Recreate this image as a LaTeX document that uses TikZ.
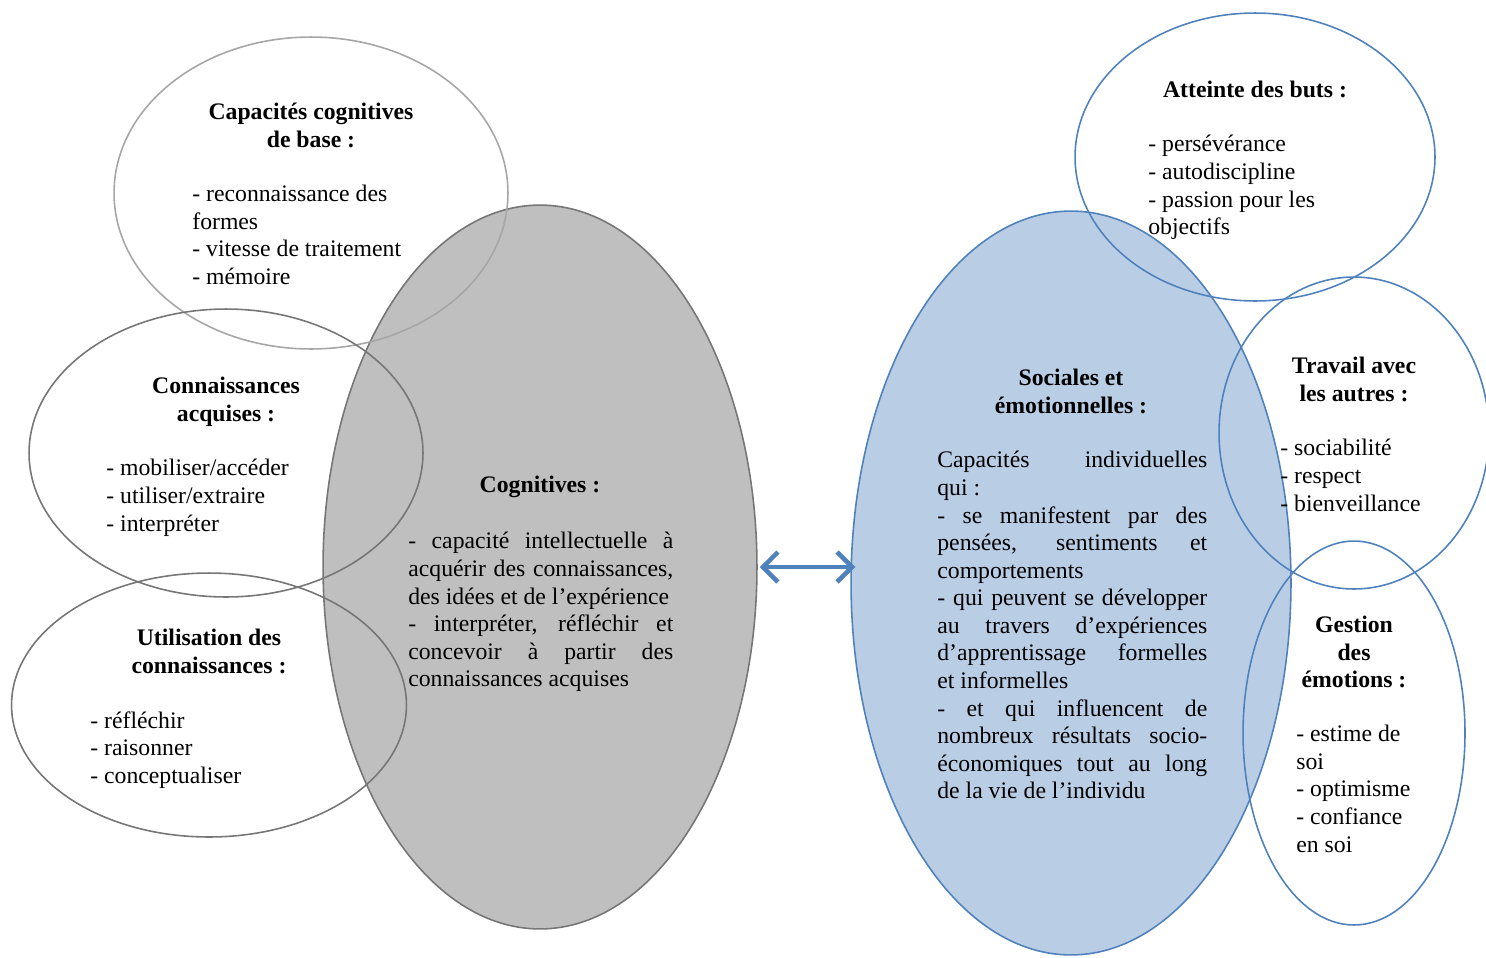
\documentclass[tikz,border=0pt]{standalone}
\usepackage{fontspec}
\setmainfont{Liberation Serif}
\usepackage{tikz}
\usetikzlibrary{arrows.meta, shapes.geometric, positioning}
\definecolor{cogfill}{RGB}{191,191,191}
\definecolor{cogline}{RGB}{118,118,118}
\definecolor{lightline}{RGB}{166,166,166}
\definecolor{socfill}{RGB}{185,205,229}
\definecolor{socline}{RGB}{79,129,189}
\tolerance=9999
\hyphenpenalty=10000

\begin{document}
\begin{tikzpicture}[x=0.02cm, y=-0.02cm, font=\fontsize{13.5}{15.7}\selectfont]
 \tikzstyle{bubble}=[ellipse, draw, inner sep=0pt, line width=0.9pt]
 \tikzstyle{title}=[align=center, anchor=north, inner sep=0pt, font=\fontsize{13.5}{15.7}\selectfont\bfseries]
 \tikzstyle{items}=[align=left, anchor=north west, inner sep=0pt]
 \tikzstyle{para}=[align=justify, anchor=north west, inner sep=0pt]
 \tikzstyle{link}=[<->, >={Straight Barb[length=3mm, width=6mm]}, line width=2.6pt, draw=socline, line cap=round]

 \useasboundingbox (0,0) rectangle (1486,957);

 % big bubbles
 \node[bubble, fill=cogfill, draw=cogline, minimum width=8.68cm, minimum height=14.48cm] (cog) at (540,567) {};
 \node[bubble, fill=socfill, draw=socline, minimum width=8.8cm, minimum height=14.88cm] (soc) at (1071,583) {};

 % left side
 \node[bubble, draw=lightline, minimum width=7.88cm, minimum height=6.24cm] (base) at (311,193) {};
 \node[bubble, draw=cogline, minimum width=7.88cm, minimum height=5.76cm] (acq) at (226,453) {};
 \node[bubble, draw=cogline, minimum width=7.9cm, minimum height=5.28cm] (util) at (209,705) {};

 % right side
 \node[bubble, draw=socline, minimum width=7.2cm, minimum height=5.76cm] (buts) at (1255,157) {};
 \node[bubble, draw=socline, minimum width=5.4cm, minimum height=6.24cm] (autres) at (1354,433) {};
 \node[bubble, draw=socline, minimum width=4.44cm, minimum height=7.68cm] (emo) at (1354,733) {};

 \draw[link] ([xshift=0.04cm]cog.east) -- ([xshift=0.1cm]cog.east -| soc.west);

 % texts
 \node[title] (base-t) at (311,103) {Capacités cognitives\\de base :};
 \node[items] (base-l) at (192,185) {- reconnaissance des\\formes\\- vitesse de traitement\\- mémoire};

 \node[title] (acq-t) at (226,377) {Connaissances\\acquises :};
 \node[items] (acq-l) at (106,459) {- mobiliser/accéder\\- utiliser/extraire\\- interpréter};

 \node[title] (util-t) at (209,629) {Utilisation des\\connaissances :};
 \node[items] (util-l) at (90,711) {- réfléchir\\- raisonner\\- conceptualiser};

 \node[title] (cog-t) at (540,476) {Cognitives :};
 \node[para, text width=5.3cm] (cog-p) at (408,532) {\noindent- capacité intellectuelle à\linebreak acquérir des connaissances,\linebreak des idées et de l’expérience\\- interpréter, réfléchir et\linebreak concevoir à partir des\linebreak connaissances acquises};

 \node[title] (soc-t) at (1071,369) {Sociales et\\émotionnelles :};
 \node[para, text width=5.4cm] (soc-p) at (937,451) {\noindent Capacités individuelles\linebreak qui~:\\- se manifestent par des\linebreak pensées, sentiments et\linebreak comportements\\- qui peuvent se développer\linebreak au travers d’expériences\linebreak d’apprentissage formelles\linebreak et informelles\\- et qui influencent de\linebreak nombreux résultats socio-\linebreak économiques tout au long\linebreak de la vie de l’individu};

 \node[title] (buts-t) at (1255,81) {Atteinte des buts :};
 \node[items] (buts-l) at (1148,135) {- persévérance\\- autodiscipline\\- passion pour les\\objectifs};

 \node[title] (autres-t) at (1354,357) {Travail avec\\les autres :};
 \node[items] (autres-l) at (1280,439) {- sociabilité\\- respect\\- bienveillance};

 \node[title] (emo-t) at (1354,616) {Gestion\\des\\émotions :};
 \node[items] (emo-l) at (1296,725) {- estime de\\soi\\- optimisme\\- confiance\\en soi};
\end{tikzpicture}
\end{document}
